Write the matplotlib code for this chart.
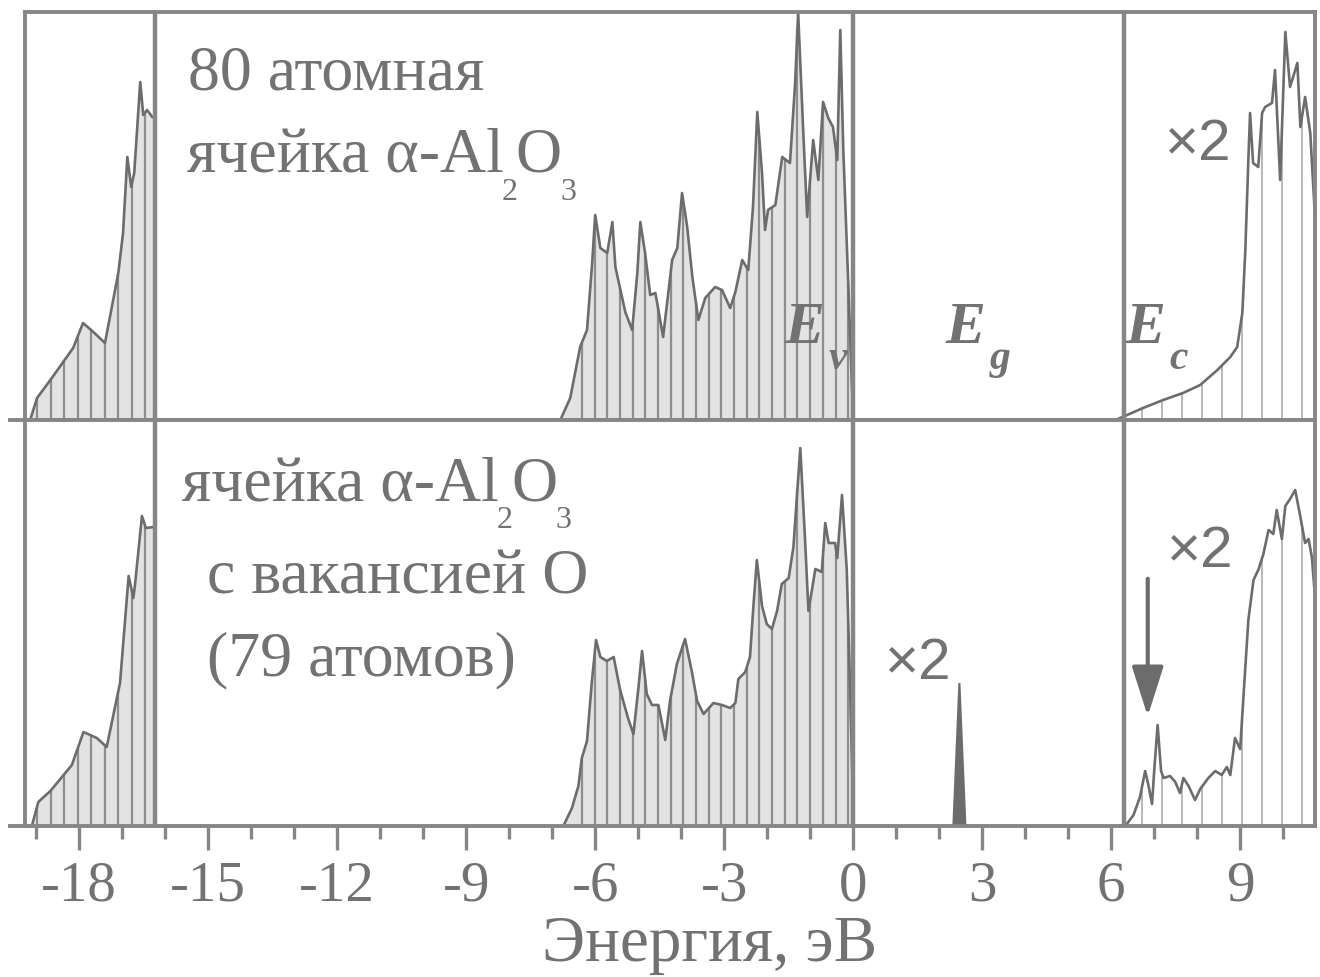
import numpy as np
import matplotlib.pyplot as plt

plt.rcParams['axes.unicode_minus'] = False

# --- data (energy in eV, DOS in arbitrary units) ---
# upper panel: 80-atom cell
top_o2s_e = [-19.14, -18.98, -18.67, -18.14, -17.91, -17.67, -17.40, -17.09, -16.98,
             -16.88, -16.79, -16.72, -16.58, -16.51, -16.42, -16.30, -16.23, -16.22]
top_o2s_dos = [0, 22, 40, 72, 97, 88, 77, 147, 187, 263, 233, 247, 338, 305, 310, 303, 303, 0]

top_vb_e = [-6.81, -6.58, -6.35, -6.19, -6.07, -6.00, -5.88, -5.72, -5.60, -5.53, -5.30,
            -5.14, -5.02, -4.95, -4.84, -4.72, -4.60, -4.42, -4.21, -4.09, -3.98, -3.86,
            -3.74, -3.60, -3.44, -3.21, -3.05, -2.86, -2.74, -2.58, -2.44, -2.33, -2.23,
            -2.12, -2.05, -1.98, -1.81, -1.65, -1.47, -1.35, -1.28, -1.16, -1.07, -0.93,
            -0.81, -0.70, -0.58, -0.47, -0.37, -0.30, -0.23, -0.12, 0.0]
top_vb_dos = [0, 22, 73, 90, 157, 205, 172, 167, 198, 153, 108, 90, 147, 198, 167, 125,
              127, 83, 160, 172, 227, 193, 143, 100, 122, 133, 130, 112, 128, 160, 150,
              213, 308, 247, 190, 210, 215, 263, 257, 337, 407, 287, 203, 280, 240, 318,
              302, 293, 260, 390, 270, 143, 0]

top_cb_e = [6.10, 6.37, 6.74, 7.21, 7.67, 8.07, 8.47, 8.77, 8.93, 9.05, 9.12, 9.19, 9.23,
            9.30, 9.42, 9.51, 9.58, 9.74, 9.81, 9.93, 10.05, 10.16, 10.33, 10.40, 10.51,
            10.63, 10.74]
top_cb_dos = [0, 5, 12, 20, 27, 35, 50, 63, 73, 107, 170, 260, 307, 257, 253, 307, 313,
              317, 350, 240, 388, 333, 357, 293, 323, 287, 203]

# lower panel: cell with O vacancy (79 atoms)
bot_o2s_e = [-19.10, -18.95, -18.67, -18.17, -17.90, -17.59, -17.36, -17.05, -16.85,
             -16.74, -16.70, -16.54, -16.45, -16.27, -16.23, -16.22]
bot_o2s_dos = [0, 24, 35, 61, 94, 88, 79, 143, 250, 228, 242, 310, 298, 299, 299, 0]

bot_vb_e = [-6.74, -6.54, -6.39, -6.31, -6.19, -6.08, -5.98, -5.88, -5.73, -5.57, -5.42,
            -5.23, -5.11, -4.99, -4.91, -4.80, -4.68, -4.53, -4.37, -4.26, -4.10, -3.91,
            -3.75, -3.63, -3.48, -3.25, -3.05, -2.86, -2.74, -2.67, -2.51, -2.40, -2.32,
            -2.24, -2.12, -2.01, -1.89, -1.77, -1.66, -1.50, -1.39, -1.23, -1.12, -1.04,
            -0.88, -0.73, -0.65, -0.57, -0.42, -0.37, -0.26, -0.15, -0.07, 0.01]
bot_vb_dos = [0, 18, 40, 68, 85, 143, 186, 169, 165, 169, 136, 107, 92, 140, 175, 132,
              121, 121, 86, 125, 162, 187, 154, 125, 112, 123, 121, 118, 123, 147, 154,
              169, 220, 266, 220, 202, 197, 215, 242, 248, 279, 378, 287, 215, 257, 254,
              303, 283, 283, 268, 331, 257, 136, 0]

defect_e = [2.33, 2.47, 2.61]
defect_dos = [0, 143, 0]

bot_cb_e = [6.33, 6.52, 6.67, 6.79, 6.87, 6.95, 7.00, 7.08, 7.16, 7.22, 7.37, 7.49, 7.60,
            7.68, 7.80, 7.95, 8.07, 8.26, 8.42, 8.57, 8.69, 8.77, 8.88, 9.00, 9.08, 9.19,
            9.31, 9.43, 9.54, 9.66, 9.77, 9.85, 9.97, 10.05, 10.16, 10.28, 10.40, 10.51,
            10.59, 10.67, 10.78]
bot_cb_dos = [0, 11, 29, 55, 40, 22, 55, 101, 55, 48, 50, 44, 33, 48, 40, 26, 37, 48, 55,
              51, 59, 51, 88, 77, 132, 206, 246, 257, 272, 296, 292, 316, 287, 320, 327,
              336, 309, 283, 287, 268, 206]

edges = [-16.23, 0.0, 6.3]       # band edges drawn as vertical lines
xticks_major = [-18, -15, -12, -9, -6, -3, 0, 3, 6, 9]
xticks_minor = list(range(-19, 11))

line_c = '#6c6c6c'
frame_c = '#868686'
fill_c = '#e3e3e3'
hatch_c = '#8e8e8e'
text_c = '#727272'
serif = 'Liberation Serif'
big = 46


def band(ax, e, dos, hx, filled=True):
    e = np.asarray(e)
    dos = np.asarray(dos)
    if filled:
        ax.fill_between(e, 0, dos, color=fill_c, lw=0, zorder=1)
        ax.vlines(hx, 0, np.interp(hx, e, dos), color=hatch_c, lw=1.6, zorder=1.5)
    else:
        ax.vlines(hx, 0, np.interp(hx, e, dos), color='#b8b8b8', lw=1.4, zorder=1.5)
    ax.plot(e, dos, color=line_c, lw=1.9, zorder=2)


fig = plt.figure(figsize=(13.2, 9.77), dpi=100)
ax1 = fig.add_axes([25 / 1320, 1 - 420 / 977, 1290 / 1320, 408 / 977])
ax2 = fig.add_axes([25 / 1320, 1 - 826 / 977, 1290 / 1320, 406 / 977])

for ax, top in ((ax1, 408), (ax2, 406)):
    ax.set_xlim(-19.26, 10.74)
    ax.set_ylim(0, top)
    ax.set_yticks([])
    ax.set_xticks(xticks_major)
    ax.set_xticks(xticks_minor, minor=True)
    ax.tick_params(axis='x', which='major', direction='out', length=17, width=2.4,
                   color=frame_c)
    ax.tick_params(axis='x', which='minor', direction='out', length=9, width=2.4,
                   color=frame_c)
    for s in ax.spines.values():
        s.set_color(frame_c)
        s.set_linewidth(2.8)
    for x in edges:
        ax.axvline(x, color=frame_c, lw=3.2, zorder=3)
    ax.plot([-19.62, -19.26], [0, 0], color=frame_c, lw=2.8, clip_on=False)

ax1.tick_params(axis='x', labelbottom=False)
ax2.tick_params(axis='x', labelsize=41, labelcolor=text_c, pad=8)
for lab in ax2.get_xticklabels():
    lab.set_fontfamily(serif)

# hatch positions (decoration only)
hx_o2s = np.arange(-18.98, -16.3, 0.315)
hx_vb = np.arange(-6.31, -0.05, 0.295)
hx_cb = np.arange(6.72, 10.8, 0.465)

band(ax1, top_o2s_e, top_o2s_dos, hx_o2s)
band(ax1, top_vb_e, top_vb_dos, hx_vb)
band(ax1, top_cb_e, top_cb_dos, hx_cb, filled=False)

band(ax2, bot_o2s_e, bot_o2s_dos, hx_o2s)
band(ax2, bot_vb_e, bot_vb_dos, hx_vb)
band(ax2, bot_cb_e, bot_cb_dos, hx_cb, filled=False)
ax2.fill(defect_e, defect_dos, color=line_c, lw=1.5, zorder=2)

ax2.annotate('', xy=(6.85, 107), xytext=(6.85, 250),
             arrowprops=dict(arrowstyle='-|>,head_length=1.1,head_width=0.35',
                             mutation_scale=28, color=line_c, lw=3))


def txt(ax, x, y, s, size=big, **kw):
    return ax.text(x, y, s, fontsize=size, family=serif, color=text_c,
                   va='baseline', **kw)


def formula(ax, x, y, size=big):
    t = ax.text(x, y, 'ячейка α-Al', fontsize=size, family=serif, color=text_c,
                va='bottom')
    s1 = ax.annotate('2', xy=(1, 0), xycoords=t, xytext=(-2, -15),
                     textcoords='offset points', fontsize=size * 0.5, family=serif,
                     color=text_c, va='bottom')
    o = ax.annotate('O', xy=(1, 0), xycoords=(s1, t), xytext=(-1, 0),
                    textcoords='offset points', fontsize=size, family=serif,
                    color=text_c, va='bottom')
    ax.annotate('3', xy=(1, 0), xycoords=o, xytext=(-1, -15),
                textcoords='offset points', fontsize=size * 0.5, family=serif,
                color=text_c, va='bottom')


def elabel(ax, x, y, sub):
    t = ax.text(x, y, 'E', fontsize=43, family=serif, style='italic', weight='bold',
                color=text_c, va='baseline')
    ax.annotate(sub, xy=(1, 0), xycoords=t, xytext=(3, -16),
                textcoords='offset points', fontsize=30, family=serif,
                style='italic', weight='bold', color=text_c, va='bottom')


txt(ax1, -15.47, 330, '80 атомная')
formula(ax1, -15.49, 234)
elabel(ax1, -1.6, 77, 'v')
elabel(ax1, 2.15, 77, 'g')
elabel(ax1, 6.33, 77, 'c')
ax1.text(7.26, 260, '×2', fontsize=42, family='Liberation Sans', color=text_c,
         va='baseline')

formula(ax2, -15.6, 312)
txt(ax2, -15.02, 233, 'с вакансией О')
txt(ax2, -15.02, 151, '(79 атомов)')
ax2.text(7.3, 259, '×2', fontsize=42, family='Liberation Sans', color=text_c,
         va='baseline')
ax2.text(0.74, 147, '×2', fontsize=42, family='Liberation Sans', color=text_c,
         va='baseline')

fig.text(710 / 1320, 1 - 945 / 977, 'Энергия, эВ', fontsize=47, family=serif,
         color=text_c, ha='center', va='center')

fig.savefig('out.png', dpi=100)
